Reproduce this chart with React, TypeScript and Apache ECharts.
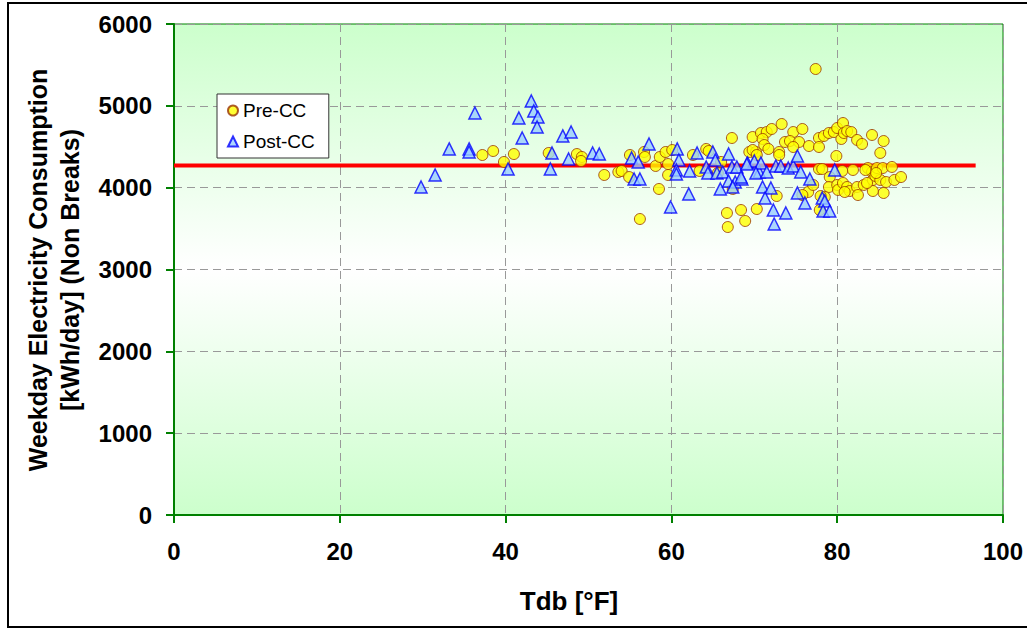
import React, { useEffect, useRef } from "react";
import * as echarts from "echarts";

const xTicks = [0, 20, 40, 60, 80, 100];
const yTicks = [0, 1000, 2000, 3000, 4000, 5000, 6000];

const preTdb = [
  37.2, 38.5, 39.8, 41.0, 45.2, 48.6, 49.2, 49.1, 51.9, 53.6, 54.0, 54.9, 55.0, 56.7, 56.8, 58.1, 58.5, 56.2, 58.6,
  59.3, 59.6, 59.6, 60.1, 62.6, 63.4, 64.2, 64.5, 65.6, 66.0, 67.3, 67.4, 66.7, 68.4, 68.9, 66.8, 70.3, 69.4, 69.8,
  70.2, 70.8, 71.5, 72.1, 73.3, 71.0, 71.2, 71.7, 69.8, 70.3, 73.0, 73.0, 74.7, 75.8, 73.7, 74.3, 75.4, 74.7, 76.6,
  77.8, 77.8, 78.4, 79.0, 79.6, 80.0, 80.7, 80.5, 80.8, 81.2, 81.7, 82.4, 83.0, 84.2, 85.6, 85.2, 79.9, 77.8, 78.2,
  81.9, 79.1, 79.0, 80.0, 80.1, 80.7, 81.2, 81.5, 82.4, 82.5, 83.2, 83.7, 84.2, 84.3, 84.6, 84.8, 85.2, 85.5, 85.9,
  86.6, 86.9, 87.7, 85.6, 84.3, 83.6, 80.9, 76.5, 77.1, 75.8, 72.7, 77.9, 78.5, 78.0, 77.4, 80.6, 83.4, 84.7,
];
const preKwh = [
  4399, 4448, 4314, 4411, 4424, 4411, 4375, 4326, 4155, 4191, 4204, 4130, 4399, 4436, 4375, 4265, 3984, 3617, 4375,
  4436, 4289, 4155, 4460, 4399, 4204, 4473, 4448, 4179, 4314, 4607, 3984, 3690, 3727, 3593, 3519, 3739, 4436, 4619,
  4436, 4668, 4680, 4717, 4778, 4595, 4521, 4473, 4460, 4399, 4436, 4399, 4680, 4717, 4558, 4570, 4558, 4497, 4509,
  4607, 4497, 4632, 4668, 4680, 4729, 4790, 4595, 4668, 4692, 4680, 4583, 4534, 4644, 4570, 4424, 4387, 4228, 4228,
  4216, 4130, 4008, 4033, 3972, 4057, 4008, 3959, 4008, 3910, 4033, 4240, 4191, 4094, 4143, 4240, 4094, 4240, 4069,
  4253, 4094, 4130, 3935, 3959, 4057, 3947, 3947, 4033, 3910, 3898, 3727, 3886, 3898, 5450, 4204, 4216, 4179,
];

const postTdb = [
  29.8, 31.5, 33.2, 35.6, 35.6, 36.3, 40.3, 41.6, 42.0, 43.1, 43.4, 43.9, 43.8, 45.4, 45.6, 46.9, 47.9, 47.6, 50.5,
  51.3, 55.2, 56.0, 55.5, 56.2, 57.3, 60.7, 60.9, 60.6, 60.6, 62.2, 62.1, 59.9, 63.1, 65.0, 65.3, 66.9, 64.2, 64.4,
  65.5, 66.2, 67.3, 67.9, 65.9, 66.9, 67.7, 68.5, 67.4, 69.2, 70.0, 70.6, 68.4, 69.1, 70.8, 70.2, 71.5, 71.0, 72.0,
  71.3, 72.3, 72.4, 73.8, 72.6, 73.2, 74.1, 74.7, 75.2, 75.6, 76.7, 75.2, 76.1, 78.2, 78.5, 78.3, 79.1, 79.7,
];
const postKwh = [
  4008, 4155, 4473, 4473, 4436, 4912, 4228, 4851, 4607, 5059, 4937, 4864, 4741, 4228, 4424, 4632, 4680, 4350, 4424,
  4411, 4363, 4314, 4106, 4106, 4534, 4473, 4338, 4216, 4167, 4204, 3923, 3764, 4424, 4436, 4338, 4411, 4253, 4179,
  4179, 4191, 4253, 4253, 3984, 4081, 4069, 4106, 4008, 4301, 4326, 4191, 4130, 4289, 4301, 4179, 4191, 4008, 3996,
  3874, 3727, 3556, 3690, 4265, 4265, 4240, 4265, 4387, 4191, 4106, 3935, 3813, 3874, 3837, 3715, 3715, 4216,
];

const baselineTdb = [0, 96.7];
const baselineKwh = 4270;

const FONT = 'Arial, "Liberation Sans", sans-serif';

const GL = 174;
const GT = 24;
const GW = 829;
const GH = 491;

export default function App() {
  const ref = useRef<HTMLDivElement>(null);
  useEffect(() => {
    document.body.style.margin = "0";
    const chart = echarts.init(ref.current!, null, { renderer: "svg" });
    const pre = preTdb.map((x, i) => [x, preKwh[i]]);
    const post = postTdb.map((x, i) => [x, postKwh[i]]);
    const base = baselineTdb.map((x) => [x, baselineKwh]);
    chart.setOption({
      animation: false,
      backgroundColor: "#ffffff",
      textStyle: { fontFamily: FONT },
      grid: {
        left: GL,
        top: GT,
        width: GW,
        height: GH,
        show: false,
      },
      legend: {
        left: 217,
        top: 94,
        orient: "vertical",
        data: ["Pre-CC", "Post-CC"],
        backgroundColor: "#ffffff",
        borderColor: "#333333",
        borderWidth: 1,
        padding: [7, 14, 7, 10],
        itemGap: 12,
        itemWidth: 10,
        itemHeight: 10,
        itemTextGap: 6,
        textStyle: { fontSize: 19, color: "#000", fontFamily: FONT },
      },
      xAxis: {
        type: "value",
        min: xTicks[0],
        max: xTicks[xTicks.length - 1],
        interval: 20,
        axisLine: { show: true, lineStyle: { color: "#008000", width: 2 } },
        axisTick: { show: true, length: 8, lineStyle: { color: "#008000", width: 2 } },
        axisLabel: { fontSize: 24, fontWeight: "bold", color: "#000", margin: 24, fontFamily: FONT },
        splitLine: { show: true, lineStyle: { color: "#999999", type: [8, 5], width: 1 } },
      },
      yAxis: {
        type: "value",
        min: yTicks[0],
        max: yTicks[yTicks.length - 1],
        interval: 1000,
        axisLine: { show: true, lineStyle: { color: "#008000", width: 2 } },
        axisTick: { show: true, length: 8, lineStyle: { color: "#008000", width: 2 } },
        axisLabel: {
          fontSize: 24,
          fontWeight: "bold",
          color: "#000",
          margin: 22,
          fontFamily: FONT,
          formatter: (v: number) => String(v),
        },
        splitLine: { show: true, lineStyle: { color: "#999999", type: [8, 5], width: 1 } },
      },
      graphic: [
        {
          type: "rect",
          silent: true,
          z: -100,
          shape: { x: GL, y: GT, width: GW, height: GH },
          style: {
            fill: new echarts.graphic.LinearGradient(0, 0, 0, 1, [
              { offset: 0, color: "#ccffcc" },
              { offset: 0.5, color: "#ffffff" },
              { offset: 1, color: "#ccffcc" },
            ]),
            stroke: "#008000",
            lineWidth: 1,
          },
        },
        {
          type: "rect",
          silent: true,
          shape: { x: 8, y: 3, width: 1040, height: 624 },
          style: { fill: "none", stroke: "#000", lineWidth: 2 },
        },
        {
          type: "text",
          x: 38,
          y: 270,
          rotation: Math.PI / 2,
          style: {
            text: "Weekday Electricity Consumption",
            font: `bold 25px ${FONT}`,
            fill: "#000",
            align: "center",
            verticalAlign: "middle",
          },
        },
        {
          type: "text",
          x: 70,
          y: 270,
          rotation: Math.PI / 2,
          style: {
            text: "[kWh/day] (Non Breaks)",
            font: `bold 25px ${FONT}`,
            fill: "#000",
            align: "center",
            verticalAlign: "middle",
          },
        },
        {
          type: "text",
          x: 569,
          y: 601,
          style: {
            text: "Tdb [°F]",
            font: `bold 26px ${FONT}`,
            fill: "#000",
            align: "center",
            verticalAlign: "middle",
          },
        },
      ],
      series: [
        {
          name: "Baseline",
          type: "line",
          data: base,
          symbol: "none",
          lineStyle: { color: "#ff0000", width: 4 },
          z: 2,
        },
        {
          name: "Pre-CC",
          type: "scatter",
          data: pre,
          symbol: "circle",
          symbolSize: 11,
          itemStyle: { color: "#ffff00", borderColor: "#993300", borderWidth: 1 },
          z: 3,
        },
        {
          name: "Post-CC",
          type: "scatter",
          data: post,
          symbol: "triangle",
          symbolSize: 12,
          itemStyle: { color: "#99ccff", borderColor: "#0000ff", borderWidth: 1.5 },
          z: 4,
        },
      ],
    });
    return () => chart.dispose();
  }, []);
  return <div ref={ref} style={{ width: 1027, height: 629 }} />;
}
